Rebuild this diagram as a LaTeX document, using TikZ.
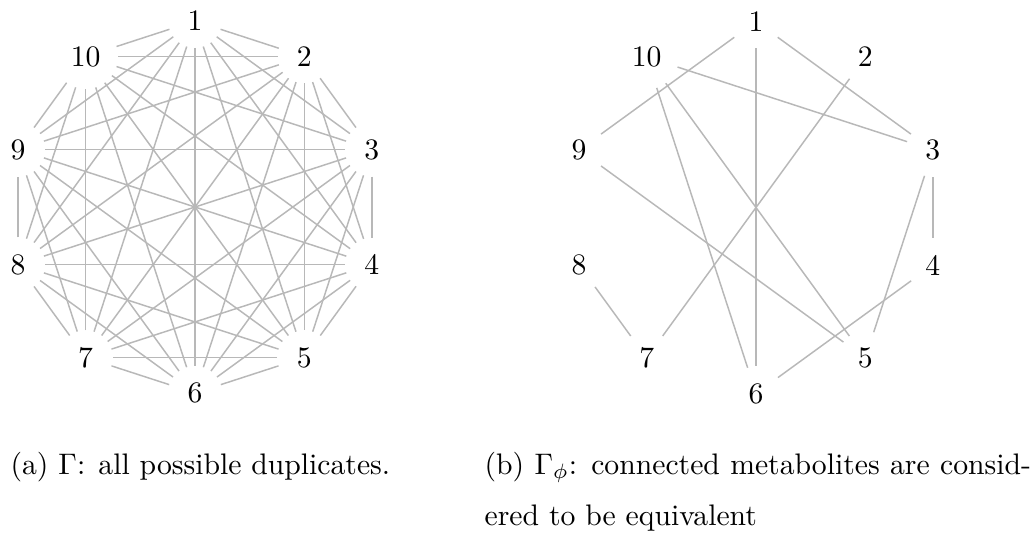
\documentclass[tikz,border=0pt]{standalone}
\definecolor{edgegray}{gray}{0.72}
\begin{document}
\begin{tikzpicture}[x=0.3367pt,y=-0.3367pt,
  vtx/.style={circle,inner sep=3.33pt},
  edge/.style={draw=edgegray,line width=0.5pt},
  captext/.style={anchor=base west,inner sep=0pt}]
\useasboundingbox (0,0) rectangle (1033,536);
% left graph: complete graph
\foreach \i in {1,...,10}
  \node[vtx] (a\i) at ({195+186*cos(90-36*(\i-1))},{207-186*sin(90-36*(\i-1))}) {\i};
\foreach \i in {1,...,9}{
  \pgfmathtruncatemacro\k{\i+1}
  \foreach \j in {\k,...,10}
    \draw[edge] (a\i) -- (a\j);
}
% right graph
\foreach \i in {1,...,10}
  \node[vtx] (b\i) at ({756+186*cos(90-36*(\i-1))},{207.5-186*sin(90-36*(\i-1))}) {\i};
\foreach \u/\v in {1/9,1/6,1/3,10/3,10/6,10/5,2/7,9/5,8/7,3/4,3/5,4/6}
  \draw[edge] (b\u) -- (b\v);
% captions
\node[captext] (capa) at (10,474) {(a) $\Gamma$: all possible duplicates.};
\node[captext] (capb1) at (484,474) {\makebox[184pt][s]{(b) $\Gamma_\phi$: connected metabolites are consid-}};
\node[captext] (capb2) at (484,525) {ered to be equivalent};
\end{tikzpicture}
\end{document}
